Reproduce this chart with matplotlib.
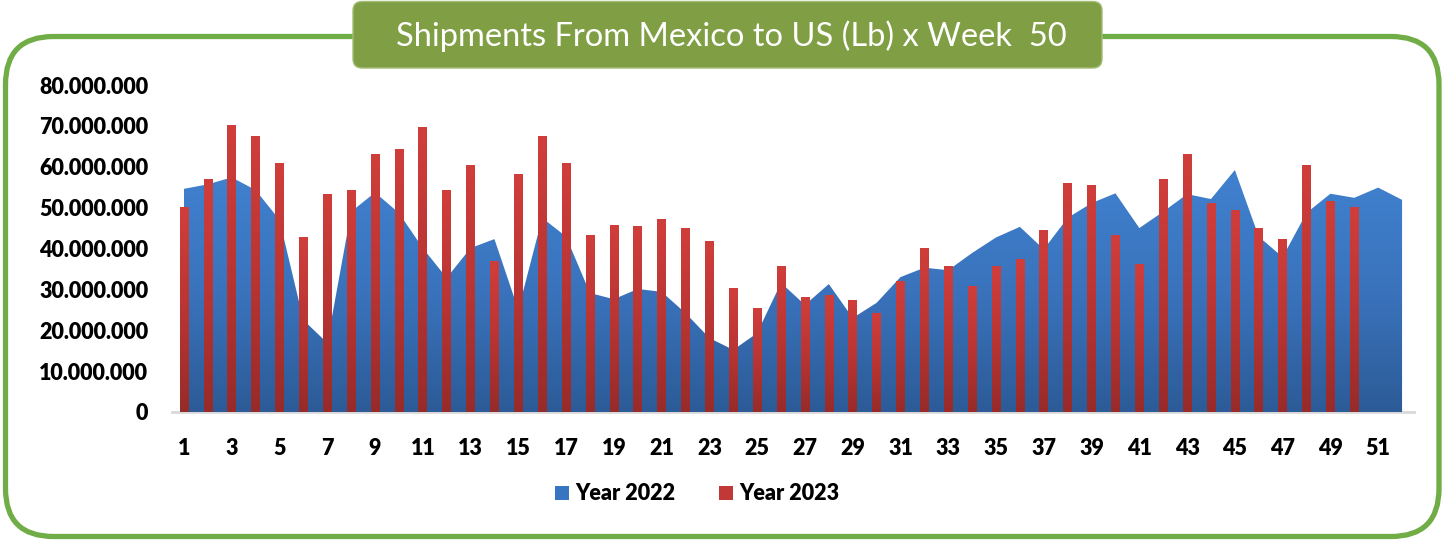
import numpy as np
import matplotlib
matplotlib.use("Agg")
import matplotlib.pyplot as plt
from matplotlib.patches import FancyBboxPatch, Patch, Polygon
from matplotlib.colors import LinearSegmentedColormap
from matplotlib.ticker import FuncFormatter, FixedLocator

# ---------------- data (millions of lb) ----------------
weeks_2022 = list(range(1, 53))
weeks_2023 = list(range(1, 51))
values_2022 = [54.6, 55.7, 57.4, 54.3, 47.0, 22.5, 16.9, 49.0, 53.7, 48.7,
               40.1, 32.8, 40.1, 42.3, 25.0, 47.5, 42.9, 29.1, 27.6, 30.1,
               29.4, 24.2, 18.1, 15.2, 19.3, 31.6, 26.2, 31.3, 23.0, 26.7,
               33.0, 35.3, 34.7, 38.9, 42.7, 45.3, 39.8, 47.5, 51.1, 53.5,
               45.0, 49.0, 53.3, 52.1, 59.2, 42.9, 37.9, 48.7, 53.4, 52.4,
               54.9, 51.9]
values_2023 = [50.1, 57.0, 70.0, 67.5, 60.7, 42.8, 53.3, 54.1, 63.1, 64.3,
               69.5, 54.3, 60.2, 36.7, 58.2, 67.3, 60.7, 43.3, 45.7, 45.3,
               47.0, 44.8, 41.6, 30.1, 25.4, 35.5, 28.1, 28.6, 27.2, 24.2,
               32.0, 40.1, 35.7, 30.8, 35.7, 37.2, 44.3, 55.8, 55.5, 43.3,
               36.0, 57.0, 62.9, 51.1, 49.2, 45.0, 42.1, 60.2, 51.6, 50.1]
y_ticks_millions = [0, 10, 20, 30, 40, 50, 60, 70, 80]
x_tick_weeks = list(range(1, 52, 2))
series_names = ["Year 2022", "Year 2023"]
title_text = "Shipments From Mexico to US (Lb) x Week  50"

SCALE = 1_000_000
v22 = np.array(values_2022) * SCALE
v23 = np.array(values_2023) * SCALE

W, H = 1442, 540
fig = plt.figure(figsize=(W / 100, H / 100), dpi=100)

# ---------------- background frame & title box ----------------
bg = fig.add_axes([0, 0, 1, 1], zorder=0)
bg.set_xlim(0, W)
bg.set_ylim(H, 0)
bg.axis("off")
frame = FancyBboxPatch((5.5, 36.5), 1433.5, 500,
                       boxstyle="round,pad=0,rounding_size=48",
                       fill=False, ec="#70AD47", lw=3.8, zorder=1)
bg.add_patch(frame)
tbox = FancyBboxPatch((353, 1.5), 749, 66.5,
                      boxstyle="round,pad=0,rounding_size=9",
                      fc="#809E44", ec="#A3BD75", lw=1.0, zorder=2)
bg.add_patch(tbox)
bg.text(731, 45.5, title_text, color="white", fontsize=23.5, family="Lato",
        ha="center", va="baseline", zorder=3)

# ---------------- main axes ----------------
ax = fig.add_axes([172 / W, (H - 412) / H, (1414 - 172) / W, (412 - 85) / H], zorder=2)
ax.patch.set_alpha(0)

grad = np.linspace(0, 1, 256).reshape(-1, 1)
cmap_blue = LinearSegmentedColormap.from_list("b", ["#2C5B97", "#3A73BC", "#4081CF"])
cmap_red = LinearSegmentedColormap.from_list("r", ["#972B29", "#B93533", "#D03E3B"])

# area (2022)
poly = ax.fill_between(weeks_2022, v22, 0, color="none", lw=0)
verts = poly.get_paths()[0].vertices
clip = Polygon(verts, closed=True, fc="none", ec="none", transform=ax.transData)
ax.add_patch(clip)
im = ax.imshow(grad, cmap=cmap_blue, aspect="auto", origin="lower",
               extent=[weeks_2022[0], weeks_2022[-1], 0, v22.max()],
               interpolation="bilinear", zorder=1)
im.set_clip_path(clip)

# bars (2023)
bars = ax.bar(weeks_2023, v23, width=0.36, color="none", lw=0, zorder=3)
for b in bars:
    x0 = b.get_x()
    ax.imshow(grad, cmap=cmap_red, aspect="auto", origin="lower",
              extent=[x0, x0 + b.get_width(), 0, b.get_height()],
              interpolation="bilinear", zorder=3)

ax.set_xlim(0.5, 52.5)
ax.set_ylim(0, 80 * SCALE)
ax.yaxis.set_major_locator(FixedLocator([t * SCALE for t in y_ticks_millions]))
ax.yaxis.set_major_formatter(FuncFormatter(lambda v, p: f"{int(round(v)):,}".replace(",", ".")))
ax.xaxis.set_major_locator(FixedLocator(x_tick_weeks))
ax.tick_params(axis="both", length=0)
ax.tick_params(axis="y", pad=17)
ax.tick_params(axis="x", pad=19)
for lab in ax.get_xticklabels() + ax.get_yticklabels():
    lab.set_fontfamily("Lato")
    lab.set_fontweight("heavy")
    lab.set_fontsize(15.5)
for s in ["top", "right", "left"]:
    ax.spines[s].set_visible(False)
ax.spines["bottom"].set_color("#D9D9D9")
ax.spines["bottom"].set_linewidth(2)
ax.spines["bottom"].set_zorder(0)

handles = [Patch(fc="#3774C2"), Patch(fc="#C13836")]
fig.legend(handles, series_names, loc="center", bbox_to_anchor=(697 / W, 1 - 494 / H),
           ncol=2, frameon=False, prop={"family": "Lato", "weight": "heavy", "size": 15.5},
           handlelength=0.65, handleheight=0.65, handletextpad=0.3, columnspacing=2.0)

fig.savefig("out.png", dpi=100)
